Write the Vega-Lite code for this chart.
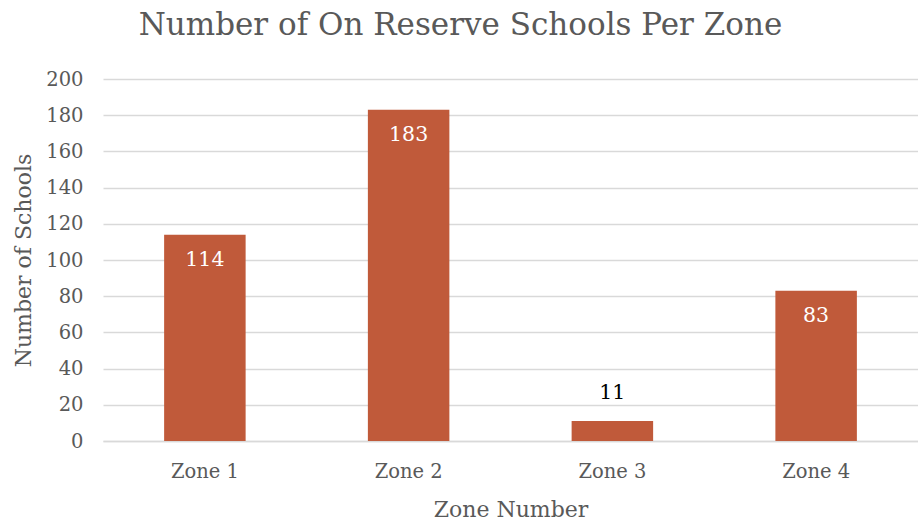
{
  "$schema": "https://vega.github.io/schema/vega-lite/v6.json",
  "width": 815,
  "height": 362,
  "autosize": {"type": "none"},
  "padding": {"left": 103, "top": 79, "right": 0, "bottom": 82},
  "background": "white",
  "title": {
    "text": "Number of On Reserve Schools Per Zone",
    "font": "DejaVu Serif",
    "fontSize": 31,
    "fontWeight": "normal",
    "color": "#595959",
    "anchor": "middle",
    "frame": "group",
    "offset": 27,
    "dx": -50
  },
  "data": {
    "values": [
      {"zone": "Zone 1", "count": 114},
      {"zone": "Zone 2", "count": 183},
      {"zone": "Zone 3", "count": 11},
      {"zone": "Zone 4", "count": 83}
    ]
  },
  "encoding": {
    "x": {
      "field": "zone",
      "type": "nominal",
      "sort": null,
      "scale": {"paddingInner": 0.6, "paddingOuter": 0.3},
      "axis": {
        "title": "Zone Number",
        "labelAngle": 0,
        "labelFont": "DejaVu Serif",
        "labelFontSize": 19.5,
        "labelColor": "#595959",
        "labelPadding": 21,
        "titleFont": "DejaVu Serif",
        "titleFontSize": 22,
        "titleFontWeight": "normal",
        "titleColor": "#595959",
        "titlePadding": 19,
        "ticks": false,
        "domainColor": "#d9d9d9",
        "domainWidth": 1.5,
        "grid": false
      }
    },
    "y": {
      "field": "count",
      "type": "quantitative",
      "scale": {"domain": [0, 200]},
      "axis": {
        "title": "Number of Schools",
        "values": [0, 20, 40, 60, 80, 100, 120, 140, 160, 180, 200],
        "labelFont": "DejaVu Serif",
        "labelFontSize": 19.5,
        "labelColor": "#595959",
        "labelPadding": 20,
        "titleFont": "DejaVu Serif",
        "titleFontSize": 22,
        "titleFontWeight": "normal",
        "titleColor": "#595959",
        "titlePadding": 10,
        "ticks": false,
        "domain": false,
        "gridColor": "#d9d9d9",
        "gridWidth": 1.5
      }
    }
  },
  "layer": [
    {"mark": {"type": "bar", "color": "#C05A3A"}},
    {
      "transform": [{"filter": "datum.count > 30"}],
      "mark": {"type": "text", "baseline": "top", "dy": 15, "color": "white", "font": "DejaVu Serif", "fontSize": 20.5},
      "encoding": {"text": {"field": "count"}}
    },
    {
      "transform": [{"filter": "datum.count <= 30"}],
      "mark": {"type": "text", "baseline": "bottom", "dy": -18, "color": "#000000", "font": "DejaVu Serif", "fontSize": 20.5},
      "encoding": {"text": {"field": "count"}}
    }
  ],
  "config": {"view": {"stroke": null}}
}
